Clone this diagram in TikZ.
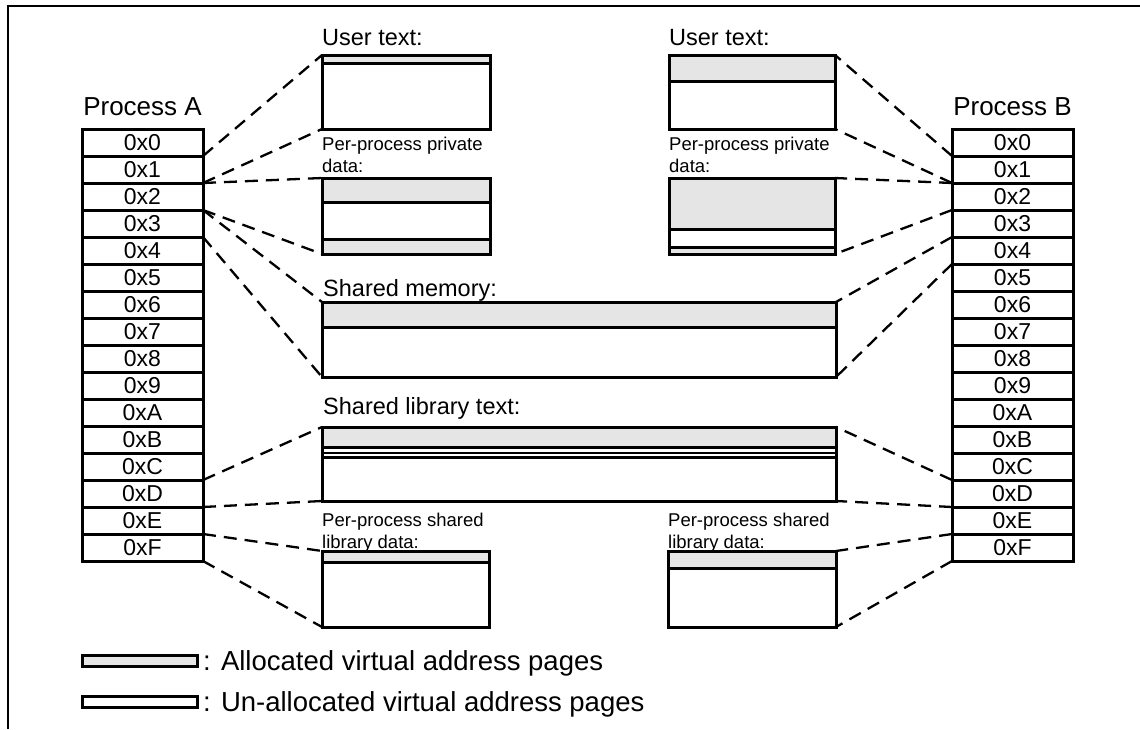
\documentclass[tikz,border=0pt]{standalone}
\usepackage{fontspec}
\setmainfont{Liberation Sans}
\definecolor{allocgray}{RGB}{229,229,229}
\begin{document}
\begin{tikzpicture}[x=1pt,y=-1pt,
  frameline/.style={line width=1.8pt},
  seg/.style={line width=3pt},
  thinseg/.style={line width=2.4pt},
  membox/.style={draw, line width=3pt, inner sep=0pt, outer sep=0pt},
  cell/.style={draw, line width=3pt, minimum width=121pt, minimum height=27pt, inner sep=0pt, outer sep=0pt, font=\fontsize{23}{27}\selectfont},
  conn/.style={line width=2.3pt, dash pattern=on 13pt off 8pt},
  biglbl/.style={anchor=base west, inner sep=0pt, font=\fontsize{23.5}{28}\selectfont},
  smalllbl/.style={anchor=base west, inner sep=0pt, font=\fontsize{18.5}{22}\selectfont},
  proclbl/.style={anchor=base, inner sep=0pt, font=\fontsize{26}{30}\selectfont},
  leglbl/.style={anchor=base west, inner sep=0pt, font=\fontsize{27.5}{32}\selectfont}
]
\useasboundingbox (0,0) rectangle (1140,729);
% frame
\draw[frameline] (8,729) -- (8,6) -- (1140,6);

% process tables
\node[proclbl] (procA) at (142.5,115) {Process A};
\node[proclbl] (procB) at (1012.5,115) {Process B};
\foreach \lab [count=\i from 0] in {0,1,2,3,4,5,6,7,8,9,A,B,C,D,E,F} {
  \node[cell] (a\lab) at (142.5,{142.5+27*\i}) {0x\lab};
  \node[cell] (b\lab) at (1012.5,{142.5+27*\i}) {0x\lab};
}

% ---- gray fills ----
\fill[allocgray] (322,55) rectangle (490,63);
\fill[allocgray] (322,178) rectangle (490,202);
\fill[allocgray] (322,239) rectangle (490,254);
\fill[allocgray] (669,55) rectangle (835,81);
\fill[allocgray] (669,178) rectangle (835,229);
\fill[allocgray] (669,247) rectangle (835,254);
\fill[allocgray] (322,302) rectangle (836,327);
\fill[allocgray] (322,427) rectangle (836,447);
\fill[allocgray] (322,551) rectangle (489,562);
\fill[allocgray] (668,551) rectangle (836,568);
\fill[allocgray] (82,655) rectangle (197,666);

% ---- internal lines ----
\draw[seg] (322,63) -- (490,63);
\draw[seg] (322,202) -- (490,202);
\draw[seg] (322,239) -- (490,239);
\draw[seg] (669,81) -- (835,81);
\draw[seg] (669,229) -- (835,229);
\draw[seg] (669,247) -- (835,247);
\draw[seg] (322,327) -- (836,327);
\draw[seg] (322,447) -- (836,447);
\draw[thinseg] (322,453) -- (836,453);
\draw[thinseg] (322,457.5) -- (836,457.5);
\draw[seg] (322,562) -- (489,562);
\draw[seg] (668,568) -- (836,568);

% ---- boxes ----
\node[membox, minimum width=168pt, minimum height=74pt] (utA) at (406,92) {};
\node[membox, minimum width=168pt, minimum height=76pt] (pdA) at (406,216) {};
\node[membox, minimum width=166pt, minimum height=74pt] (utB) at (752,92) {};
\node[membox, minimum width=166pt, minimum height=76pt] (pdB) at (752,216) {};
\node[membox, minimum width=514pt, minimum height=75pt] (sm) at (579,339.5) {};
\node[membox, minimum width=514pt, minimum height=74pt] (sl) at (579,464) {};
\node[membox, minimum width=167pt, minimum height=76pt] (plA) at (405.5,589) {};
\node[membox, minimum width=168pt, minimum height=76pt] (plB) at (752,589) {};

% ---- labels ----
\node[biglbl] (utAl) at (322,45) {User text:};
\node[biglbl] (utBl) at (669,45) {User text:};
\node[smalllbl] (pdAl1) at (322,150) {Per-process private};
\node[smalllbl] (pdAl2) at (322,172) {data:};
\node[smalllbl] (pdBl1) at (669,150) {Per-process private};
\node[smalllbl] (pdBl2) at (669,172) {data:};
\node[biglbl] (sml) at (323,296) {Shared memory:};
\node[biglbl] (sll) at (323,414) {Shared library text:};
\node[smalllbl] (plAl1) at (322,526) {Per-process shared};
\node[smalllbl] (plAl2) at (322,548) {library data:};
\node[smalllbl] (plBl1) at (668,526) {Per-process shared};
\node[smalllbl] (plBl2) at (668,548) {library data:};

% ---- connectors, process A ----
\draw[conn] (a0.south east) -- (utA.north west);
\draw[conn] (a1.south east) -- (utA.south west);
\draw[conn] (a1.south east) -- (pdA.north west);
\draw[conn] (a2.south east) -- (pdA.south west);
\draw[conn] (a2.south east) -- (sm.north west);
\draw[conn] (a3.south east) -- (sm.south west);
\draw[conn] (aC.south east) -- (sl.north west);
\draw[conn] (aD.south east) -- (sl.south west);
\draw[conn] (aE.south east) -- (plA.north west);
\draw[conn] (aF.south east) -- (plA.south west);
% ---- connectors, process B ----
\draw[conn] (b0.south west) -- (utB.north east);
\draw[conn] (b1.south west) -- (utB.south east);
\draw[conn] (b1.south west) -- (pdB.north east);
\draw[conn] (b2.south west) -- (pdB.south east);
\draw[conn] (b3.south west) -- (sm.north east);
\draw[conn] (b4.south west) -- (sm.south east);
\draw[conn] (bC.south west) -- (sl.north east);
\draw[conn] (bD.south west) -- (sl.south east);
\draw[conn] (bE.south west) -- (plB.north east);
\draw[conn] (bF.south west) -- (plB.south east);

% ---- legend ----
\node[membox, minimum width=115pt, minimum height=11pt] (legA) at (139.5,660.5) {};
\node[membox, minimum width=115pt, minimum height=11pt] (legU) at (139.5,701.5) {};
\node[leglbl] (legAl) at (203,670) {: Allocated virtual address pages};
\node[leglbl] (legUl) at (203,711) {: Un-allocated virtual address pages};
\end{tikzpicture}
\end{document}
